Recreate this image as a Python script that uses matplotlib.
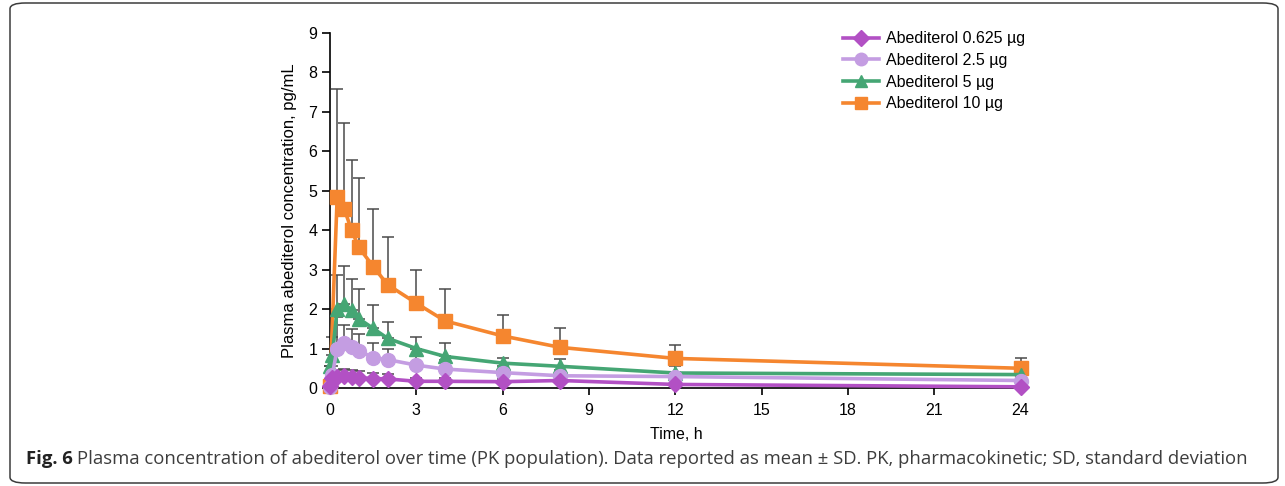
import matplotlib.pyplot as plt
import numpy as np
from matplotlib.patches import FancyBboxPatch

# Time points (h) and mean / upper SD bar tops
t_full = [0, 0.083, 0.25, 0.5, 0.75, 1, 1.5, 2, 3, 4, 6, 8, 12, 24]
t_orange = [0, 0.25, 0.5, 0.75, 1, 1.5, 2, 3, 4, 6, 8, 12, 24]

mean_0625 = [0.05, 0.25, 0.29, 0.30, 0.28, 0.26, 0.24, 0.23, 0.17, 0.17, 0.16, 0.19, 0.09, 0.03]
top_0625 = [0.05, 0.30, 0.45, 0.48, 0.45, 0.42, 0.38, 0.36, 0.26, 0.25, 0.22, 0.26, 0.13, 0.06]

mean_25 = [0.02, 0.34, 1.00, 1.13, 1.03, 0.95, 0.77, 0.72, 0.58, 0.48, 0.39, 0.31, 0.29, 0.19]
top_25 = [0.02, 0.55, 1.80, 1.60, 1.50, 1.38, 1.13, 1.00, 0.80, 0.72, 0.55, 0.45, 0.40, 0.28]

mean_5 = [0.56, 0.84, 2.01, 2.12, 1.97, 1.76, 1.51, 1.26, 1.00, 0.80, 0.63, 0.55, 0.38, 0.34]
top_5 = [0.56, 1.30, 2.87, 3.10, 2.77, 2.52, 2.10, 1.68, 1.30, 1.13, 0.77, 0.73, 0.55, 0.45]

mean_10 = [0.05, 4.85, 4.53, 4.00, 3.57, 3.08, 2.62, 2.15, 1.70, 1.32, 1.03, 0.75, 0.50]
top_10 = [0.05, 7.58, 6.73, 5.78, 5.33, 4.53, 3.83, 2.98, 2.50, 1.86, 1.52, 1.09, 0.75]

x_ticks = [0, 3, 6, 9, 12, 15, 18, 21, 24]
y_ticks = [0, 1, 2, 3, 4, 5, 6, 7, 8, 9]

series = [
    ("Abediterol 0.625 \u00b5g", t_full, mean_0625, top_0625, "#B250C4", "D", 8.5),
    ("Abediterol 2.5 \u00b5g", t_full, mean_25, top_25, "#C49DE2", "o", 10),
    ("Abediterol 5 \u00b5g", t_full, mean_5, top_5, "#45A674", "^", 10),
    ("Abediterol 10 \u00b5g", t_orange, mean_10, top_10, "#F5862F", "s", 9.5),
]

plt.rcParams['font.family'] = ['Liberation Sans', 'DejaVu Sans']

fig = plt.figure(figsize=(12.85, 4.86), dpi=100)
ax = fig.add_axes([330 / 1285, 98 / 486, 692 / 1285, 355 / 486])

handles = []
for i, (label, t, m, top, color, marker, ms) in enumerate(series):
    m = np.array(m)
    sd = np.array(top) - m
    ax.errorbar(t, m, yerr=[np.zeros_like(sd), sd], fmt='none', ecolor='#4a4a4a',
                elinewidth=1.1, capsize=4, capthick=1.1, zorder=1, clip_on=False)
    h, = ax.plot(t, m, color=color, lw=2.6, marker=marker, ms=ms, mec=color,
                 label=label, zorder=10 - i, clip_on=False)
    handles.append(h)

ax.set_xlim(0, 24.05)
ax.set_ylim(0, 9)
ax.set_xticks(x_ticks)
ax.set_yticks(y_ticks)
ax.spines['top'].set_visible(False)
ax.spines['right'].set_visible(False)
for s in ('left', 'bottom'):
    ax.spines[s].set_linewidth(1.2)
ax.tick_params(axis='y', length=6, width=1.2, labelsize=11.5, pad=3)
ax.tick_params(axis='x', length=5, width=1.2, labelsize=11.5, pad=6)
ax.set_xlabel("Time, h", fontsize=11.5, labelpad=6)
ax.set_ylabel("Plasma abediterol concentration, pg/mL", fontsize=12, labelpad=8)

ax.legend(handles=handles, loc='upper left', bbox_to_anchor=(829 / 1285, 1 - 17 / 486),
          bbox_transform=fig.transFigure, frameon=False, fontsize=11.5,
          handlelength=2.2, labelspacing=0.42, handletextpad=0.45, markerscale=0.9)

# rounded frame around the figure
frame = FancyBboxPatch((10 / 1285, 3 / 486), 1268 / 1285, 480 / 486,
                       boxstyle="round,pad=0,rounding_size=0.012",
                       transform=fig.transFigure, fill=False, ec='#3c3c3c', lw=1.1)
fig.patches.append(frame)

cap1 = fig.text(26 / 1285, 1 - 459 / 486, "Fig. 6", family=['Open Sans', 'DejaVu Sans'],
                fontweight='bold', fontsize=13.3, color='#222222', va='center')
fig.canvas.draw()
bb = cap1.get_window_extent()
fig.text((bb.x1 + 4) / 1285, 1 - 459 / 486,
         "Plasma concentration of abediterol over time (PK population). Data reported as "
         "mean \u00b1 SD. PK, pharmacokinetic; SD, standard deviation",
         family=['Open Sans', 'DejaVu Sans'], fontsize=13.3, color='#3d3d3d', va='center')

fig.savefig("out.png", dpi=100)
